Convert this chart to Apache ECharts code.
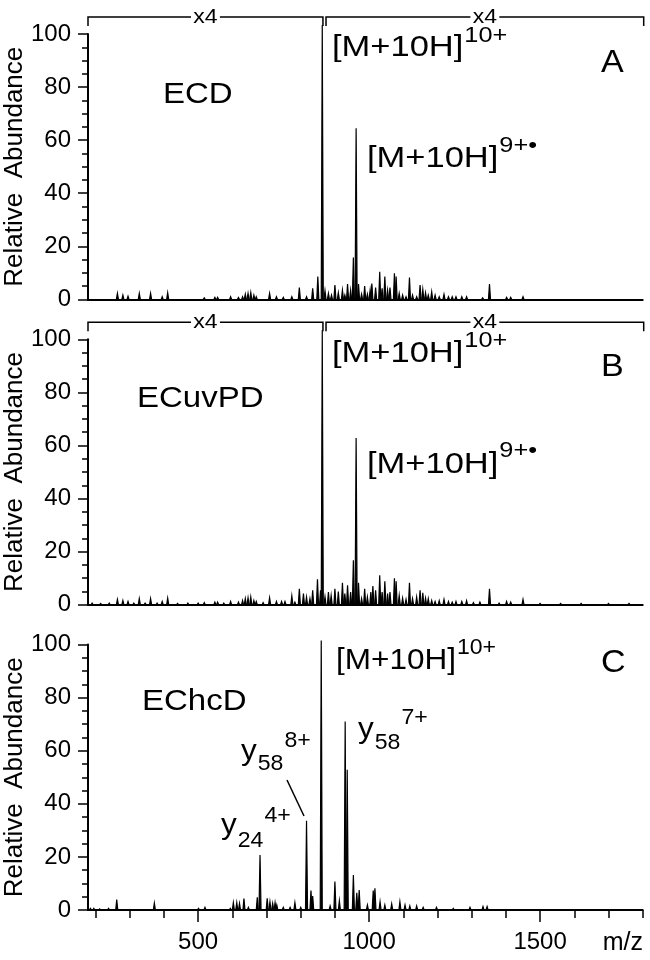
<!DOCTYPE html>
<html><head><meta charset="utf-8">
<script src="https://cdn.jsdelivr.net/npm/echarts@6/dist/echarts.min.js"></script>
<style>html,body{margin:0;padding:0;background:#fff}#c{width:650px;height:960px}</style>
</head><body><div id="c"></div>
<script>
// ---- data (m/z, relative abundance as displayed) ----
const peaksA = [[264,2.3],[280,1.6],[295,1.2],[328,2.3],[361,2.3],[395,1.0],[411,2.5],[518,0.6],[549,0.8],[557,0.8],[595,1.0],[618,0.7],[630,1.0],[638,2.0],[646,2.3],[654,2.6],[663,1.6],[670,1.0],[709,2.3],[729,1.0],[749,0.8],[774,1.0],[796,4.5],[817,1.0],[835,4.2],[850,8.6],[863,103.4],[871,3.3],[881,2.3],[890,1.6],[900,5.4],[910,2.5],[922,3.5],[929,1.6],[937,5.8],[946,3.5],[954,15.8],[962,64.5],[969,5.8],[978,2.0],[987,5.0],[995,2.0],[1003,3.5],[1008,6.0],[1019,4.5],[1031,10.4],[1038,4.2],[1046,8.6],[1054,3.5],[1061,4.5],[1074,9.8],[1079,8.6],[1088,2.3],[1098,1.6],[1108,1.0],[1118,8.2],[1127,1.6],[1139,1.0],[1149,5.4],[1157,3.8],[1165,2.5],[1173,1.6],[1183,2.9],[1193,1.6],[1205,1.0],[1219,1.9],[1232,1.0],[1243,1.0],[1254,1.0],[1271,1.0],[1285,1.0],[1332,0.6],[1352,5.8],[1402,0.8],[1414,0.8],[1450,1.0]];
const peaksB = [[190,0.6],[215,0.5],[240,0.6],[264,2.0],[280,1.6],[295,1.2],[312,0.6],[328,2.3],[345,0.6],[361,2.3],[380,0.6],[395,1.2],[411,2.5],[440,0.5],[470,0.6],[500,0.6],[518,0.8],[549,1.0],[557,1.0],[575,0.6],[595,1.2],[618,1.0],[630,1.6],[638,2.3],[646,2.6],[654,2.9],[663,1.6],[670,1.2],[690,0.8],[709,2.6],[729,1.2],[744,1.2],[754,1.2],[774,3.3],[783,1.0],[796,6.0],[808,4.2],[817,2.9],[827,2.3],[835,5.4],[849,9.6],[858,5.4],[863,103.4],[871,3.0],[881,4.8],[889,3.5],[900,6.0],[910,5.0],[922,8.3],[929,4.2],[937,7.3],[946,4.8],[954,16.7],[962,62.8],[969,8.3],[978,2.3],[987,6.0],[995,2.9],[1005,4.8],[1011,7.0],[1019,5.4],[1031,11.1],[1038,4.8],[1046,8.8],[1054,4.2],[1061,4.8],[1074,10.0],[1079,8.8],[1088,3.5],[1098,2.5],[1108,2.0],[1118,8.3],[1127,2.3],[1139,2.9],[1149,5.4],[1157,4.5],[1165,2.5],[1173,2.3],[1183,1.6],[1193,1.2],[1205,1.5],[1219,2.0],[1232,1.2],[1243,1.0],[1254,1.2],[1271,1.2],[1285,1.5],[1305,0.8],[1324,1.0],[1352,6.0],[1380,0.6],[1402,1.2],[1414,1.0],[1450,2.0],[1500,0.5],[1560,0.5],[1620,0.5],[1700,0.5],[1760,0.5]];
const peaksC = [[185,0.6],[195,0.6],[212,0.4],[238,0.6],[262,3.9],[372,2.6],[501,0.6],[520,1.0],[594,0.6],[603,2.8],[613,2.8],[621,2.5],[634,4.3],[647,1.0],[673,4.8],[681,20.7],[702,4.4],[710,3.1],[718,2.5],[725,2.8],[730,1.9],[749,1.0],[769,1.0],[783,2.8],[800,1.0],[817,33.6],[830,7.3],[835,5.3],[860,101.5],[886,1.5],[900,10.7],[913,3.5],[930,71.0],[936,52.8],[954,13.2],[964,6.5],[971,7.5],[995,1.9],[1012,7.3],[1017,8.2],[1032,3.1],[1046,1.9],[1066,2.3],[1090,3.1],[1105,1.9],[1119,1.5],[1139,1.5],[1158,1.0],[1197,1.0],[1246,0.6],[1295,1.0],[1333,1.3],[1345,1.3]];
const yTickLabels = [0, 20, 40, 60, 80, 100];
const xTickValues = [200,300,400,500,600,700,800,900,1000,1100,1200,1300,1400,1500,1600,1700,1800];
const xLabelValues = [500, 1000, 1500];
const panelNames = ['ECD', 'ECuvPD', 'EChcD'];
const panelLetters = ['A', 'B', 'C'];

const FONT = '"Liberation Sans", Arial, Helvetica, sans-serif';
const XMIN = 178, XMAX = 1800, HW = 3.0;
const chart = echarts.init(document.getElementById('c'), null, {renderer: 'canvas'});

const tops = [34, 339.3, 644.6];
const H = 265.4;
const grids = tops.map(t => ({left: 88, right: 7.3, top: t, height: H, containLabel: false, outerBoundsMode: 'none'}));

function yAx(i) {
  return {
    type: 'value', gridIndex: i, min: 0, max: 100, interval: 20,
    axisLine: {show: true, lineStyle: {color: '#000', width: 2}},
    axisTick: {show: true, length: 10, lineStyle: {color: '#000', width: 1.5}},
    minorTick: {show: true, splitNumber: 4, length: 6, lineStyle: {color: '#000', width: 1.5}},
    splitLine: {show: false}, minorSplitLine: {show: false},
    axisLabel: {color: '#000', fontSize: 24, fontFamily: FONT, margin: 17,
      customValues: yTickLabels, formatter: v => String(v)},
    name: 'Relative  Abundance', nameLocation: 'middle', nameGap: 60, nameMoveOverlap: false,
    nameTextStyle: {color: '#000', fontSize: 26, fontFamily: FONT}
  };
}
function xAx(i, ticks) {
  return {
    type: 'value', gridIndex: i, min: XMIN, max: XMAX, position: 'bottom',
    axisLine: {show: true, lineStyle: {color: '#000', width: 2}},
    axisTick: ticks ? {show: true, length: 8, customValues: xTickValues, lineStyle: {color: '#000', width: 1.5}} : {show: false},
    axisLabel: {show: false}, splitLine: {show: false}
  };
}
const xAxes = [xAx(0, false), xAx(1, false), xAx(2, true), {
  type: 'value', gridIndex: 2, min: XMIN, max: XMAX, position: 'bottom',
  axisLine: {show: false},
  axisTick: {show: true, length: 12, customValues: xLabelValues, lineStyle: {color: '#000', width: 1.5}},
  axisLabel: {show: true, customValues: xLabelValues, formatter: v => String(v), color: '#000', fontSize: 24, fontFamily: FONT, margin: 20},
  splitLine: {show: false}
}];

function peakSeries(data, xi, yi) {
  return {
    type: 'custom', xAxisIndex: xi, yAxisIndex: yi, data: data, clip: false, silent: true,
    renderItem: function (params, api) {
      const mz = api.value(0), h = api.value(1);
      const p0 = api.coord([mz - HW, 0]), p1 = api.coord([mz, h]), p2 = api.coord([mz + HW, 0]);
      return {type: 'polygon', shape: {points: [p0, p1, p2]}, style: {fill: '#000', stroke: '#000', lineWidth: 1.2}};
    }
  };
}

chart.setOption({
  animation: false,
  backgroundColor: '#fff',
  grid: grids,
  xAxis: xAxes,
  yAxis: [yAx(0), yAx(1), yAx(2)],
  series: [peakSeries(peaksA, 0, 0), peakSeries(peaksB, 1, 1), peakSeries(peaksC, 2, 2)]
});

// ---- annotations ----
const mctx = document.createElement('canvas').getContext('2d');
function tw(t, size) { mctx.font = size + 'px ' + FONT; return mctx.measureText(t).width; }
const g = [];
// parts: [text, size, yCenter, gapBefore]; sx: horizontal stretch
function rt(x, parts, sx) {
  sx = sx || 1.1;
  let cx = x;
  parts.forEach(p => {
    cx += (p[3] || 0);
    g.push({type: 'text', x: cx, y: p[2], scaleX: sx, silent: true,
      style: {text: p[0], fontSize: p[1], fontFamily: FONT, fill: '#000', align: 'left', verticalAlign: 'middle'}});
    cx += tw(p[0], p[1]) * sx;
  });
}
const BIG = 30, SUP = 22, NAME = 30;
[0, 1].forEach(i => {
  const o = tops[i] - tops[0];
  const by = 17 + o;
  const xl = chart.convertToPixel({xAxisIndex: i}, XMIN);
  const xm1 = chart.convertToPixel({xAxisIndex: i}, 865);
  const xm2 = chart.convertToPixel({xAxisIndex: i}, 874);
  const xr = chart.convertToPixel({xAxisIndex: i}, XMAX) + 1;
  [[xl, xm1], [xm2, xr]].forEach(s => {
    g.push({type: 'polyline', silent: true, shape: {points: [[s[0], by + 9], [s[0], by], [s[1], by], [s[1], by + 9]]},
      style: {stroke: '#000', lineWidth: 1.5, fill: null}});
    g.push({type: 'text', x: (s[0] + s[1]) / 2, y: by, scaleX: 1.15, silent: true,
      style: {text: 'x4', fontSize: 20, fontFamily: FONT, fill: '#000', align: 'center', verticalAlign: 'middle',
        backgroundColor: '#fff', padding: [0, 2]}});
  });
  rt(332, [['[M+10H]', BIG, 48 + o], ['10+', SUP, 36 + o, 1]], 1.15);
  rt(367, [['[M+10H]', BIG, 159 + o], ['9+•', SUP, 146 + o, 1]], 1.15);
});
rt(163, [[panelNames[0], NAME, 95]]);
rt(137, [[panelNames[1], NAME, 399]]);
rt(142, [[panelNames[2], NAME, 702]]);
rt(601, [[panelLetters[0], 31, 63]]);
rt(601, [[panelLetters[1], 31, 367]]);
rt(601, [[panelLetters[2], 31, 663]]);
rt(336, [['[M+10H]', BIG, 661], ['10+', SUP, 648, 1]], 1.05);
rt(358, [['y', BIG, 730], ['58', SUP, 743, 1], ['7+', SUP, 718, 1]], 1.05);
rt(241, [['y', BIG, 752], ['58', SUP, 764, 1], ['8+', SUP, 741, 1]], 1.05);
rt(221, [['y', BIG, 826], ['24', SUP, 841, 1], ['4+', SUP, 816, 1]], 1.05);
g.push({type: 'line', silent: true, shape: {x1: 287, y1: 780, x2: 304, y2: 816}, style: {stroke: '#000', lineWidth: 1.5}});
g.push({type: 'text', x: 643, y: 943, silent: true,
  style: {text: 'm/z', fontSize: 25, fontFamily: FONT, fill: '#000', align: 'right', verticalAlign: 'middle'}});
chart.setOption({graphic: {elements: g}});
</script></body></html>
